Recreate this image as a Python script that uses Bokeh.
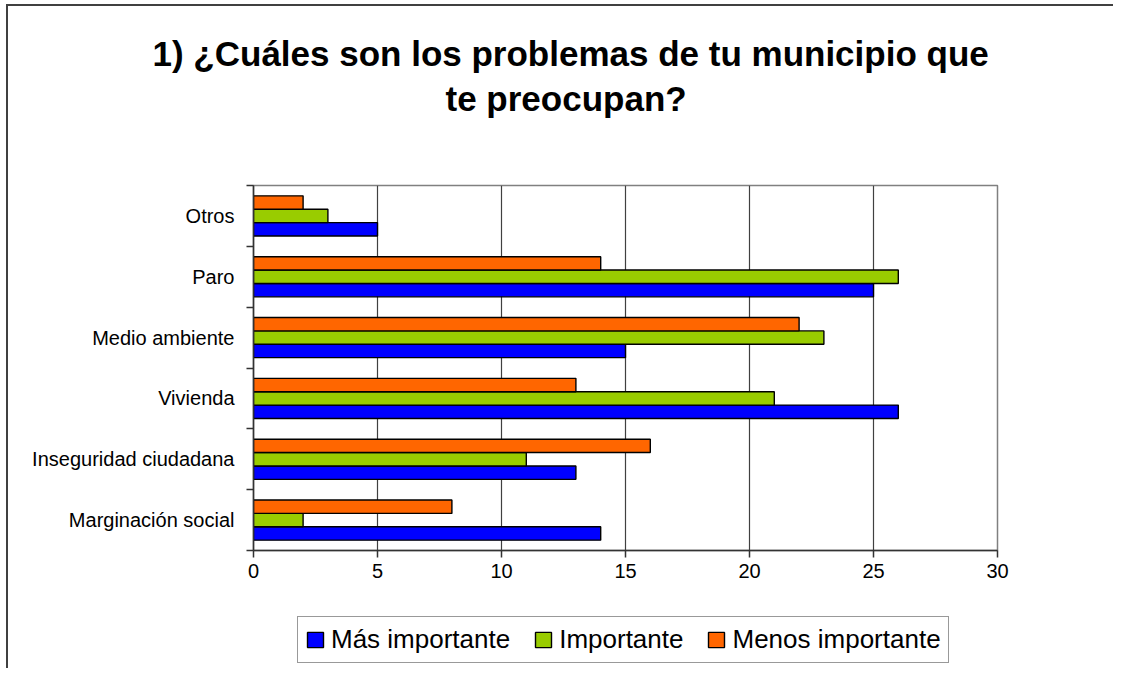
from bokeh.plotting import figure
from bokeh.layouts import column
from bokeh.models import Range1d, FixedTicker, Legend, LegendItem, Title, ColumnDataSource
from bokeh.embed import file_html
from bokeh.resources import INLINE

# ---- data ----
categories = ["Marginación social", "Inseguridad ciudadana", "Vivienda",
              "Medio ambiente", "Paro", "Otros"]
mas_importante = [14, 13, 26, 15, 25, 5]
importante = [2, 11, 21, 23, 26, 3]
menos_importante = [8, 16, 13, 22, 14, 2]
series_names = ["Más importante", "Importante", "Menos importante"]
series_colors = ["#0000FF", "#99CC00", "#FF6600"]
x_ticks = [0, 5, 10, 15, 20, 25, 30]
title_lines = ["1) ¿Cuáles son los problemas de tu municipio que", "te preocupan?"]

FONT = "Liberation Sans"
BAR_H = 0.22
X_MAX = 30
N = len(categories)

# layout (canvas pixels)
W, H1, H2 = 1105, 600, 62
FRAME_L, FRAME_T, FRAME_W, FRAME_H = 245, 179, 744, 365

centers = [i + 0.5 for i in range(N)]
boundaries = list(range(N + 1))
all_series = [mas_importante, importante, menos_importante]
offsets = [-BAR_H, 0.0, BAR_H]

p = figure(width=W, height=H1,
           x_range=Range1d(0, X_MAX), y_range=Range1d(0, N),
           output_backend="svg", toolbar_location=None,
           min_border_left=FRAME_L, min_border_right=W - FRAME_L - FRAME_W,
           min_border_top=FRAME_T, min_border_bottom=H1 - FRAME_T - FRAME_H)
p.background_fill_color = "white"
p.border_fill_color = "white"
p.outline_line_color = "#808080"
p.outline_line_width = 1.5

for vals, off, col in zip(all_series, offsets, series_colors):
    src = ColumnDataSource(dict(y=[c + off for c in centers], right=vals))
    p.hbar(y="y", right="right", left=0, height=BAR_H, source=src,
           fill_color=col, line_color="black", line_width=1.4)

# title: spacer (nearest frame), line 2, line 1
p.add_layout(Title(text=" ", text_font_size="10px", standoff=55), "above")
for line, off, stand in [(title_lines[1], 192, 0), (title_lines[0], -101, 8)]:
    p.add_layout(Title(text=line, align="left", offset=off, standoff=stand,
                       text_font=FONT, text_font_size="35px", text_font_style="bold",
                       text_color="black"), "above")

# x axis
p.xaxis.ticker = FixedTicker(ticks=x_ticks, minor_ticks=[])
p.xaxis.axis_line_color = "#333333"
p.xaxis.axis_line_width = 1.5
p.xaxis.major_tick_line_color = "#333333"
p.xaxis.major_tick_line_width = 1.5
p.xaxis.major_tick_out = 7
p.xaxis.major_tick_in = 0
p.xaxis.minor_tick_line_color = None
p.xaxis.major_label_text_font = FONT
p.xaxis.major_label_text_font_size = "20px"
p.xaxis.major_label_text_color = "black"
p.xaxis.major_label_standoff = 6

# y axis
p.yaxis.ticker = FixedTicker(ticks=centers, minor_ticks=boundaries)
p.yaxis.major_label_overrides = {c: n for c, n in zip(centers, categories)}
p.yaxis.axis_line_color = "#333333"
p.yaxis.axis_line_width = 1.5
p.yaxis.major_tick_line_color = None
p.yaxis.major_tick_out = 0
p.yaxis.major_tick_in = 0
p.yaxis.minor_tick_line_color = "#333333"
p.yaxis.minor_tick_line_width = 1.5
p.yaxis.minor_tick_out = 7
p.yaxis.minor_tick_in = 0
p.yaxis.major_label_text_font = FONT
p.yaxis.major_label_text_font_size = "20px"
p.yaxis.major_label_text_color = "black"
p.yaxis.major_label_standoff = 12

p.xgrid.ticker = FixedTicker(ticks=x_ticks)
p.xgrid.grid_line_color = "#404040"
p.xgrid.grid_line_width = 1.2
p.ygrid.visible = False

# legend strip: a second small figure whose frame holds the legend
p2 = figure(width=W, height=H2, x_range=Range1d(0, X_MAX), y_range=Range1d(0, N),
            output_backend="svg", toolbar_location=None,
            x_axis_type=None, y_axis_type=None,
            min_border_left=0, min_border_right=0, min_border_top=0, min_border_bottom=0)
p2.outline_line_color = None
p2.background_fill_color = "white"
p2.border_fill_color = "white"
legend_renderers = []
for vals, off, col in zip(all_series, offsets, series_colors):
    src = ColumnDataSource(dict(y=[c + off for c in centers], right=vals))
    r = p2.hbar(y="y", right="right", left=0, height=BAR_H, source=src,
                fill_color=col, line_color="black", line_width=1.4)
    r.visible = False
    legend_renderers.append(r)
legend = Legend(items=[LegendItem(label=n, renderers=[r]) for n, r in zip(series_names, legend_renderers)],
                location=(44, 5), orientation="horizontal",
                label_text_font=FONT, label_text_font_size="26px",
                label_text_color="black", glyph_width=20, glyph_height=19,
                label_standoff=6, spacing=23, padding=7, margin=0,
                border_line_color="#333333", border_line_width=1.5,
                background_fill_color="white", background_fill_alpha=1,
                inactive_fill_alpha=0)
p2.add_layout(legend, "center")

layout = column(p, p2, spacing=0,
                styles={"margin-left": "6px", "margin-top": "4px",
                        "border-left": "2px solid #404040", "border-top": "2px solid #404040"})

open("out.html", "w").write(file_html(layout, INLINE))
